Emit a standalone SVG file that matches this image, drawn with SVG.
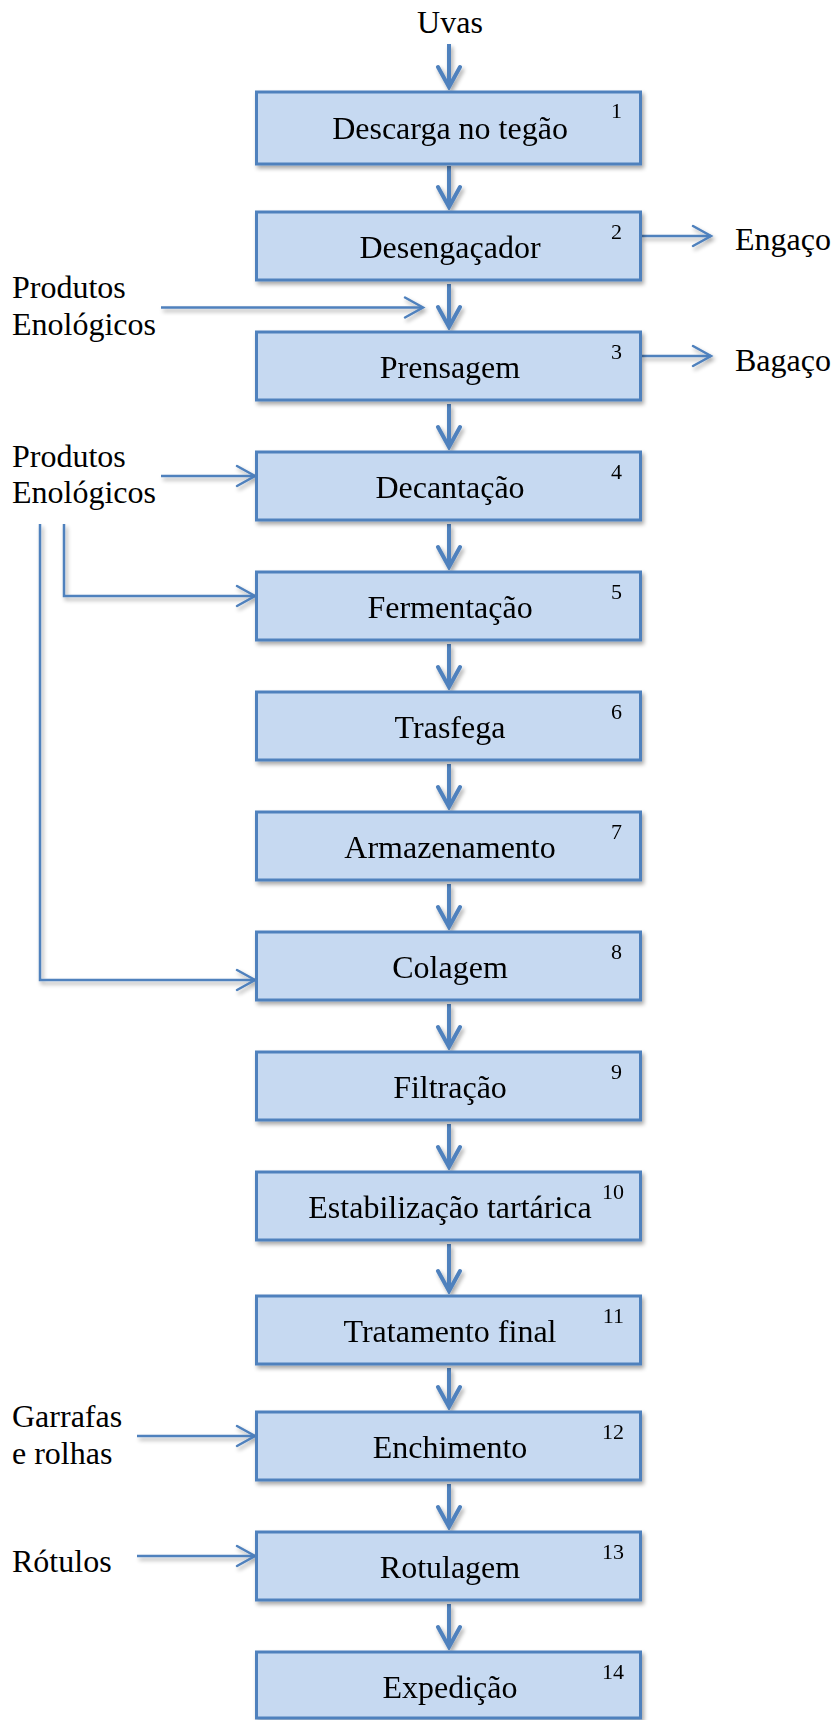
<svg xmlns="http://www.w3.org/2000/svg" width="831" height="1720" viewBox="0 0 831 1720">
<style>
.box{fill:#c6d9f1;stroke:#4f81bd;stroke-width:3}
.lbl{font-family:"Liberation Serif","Times New Roman",serif;font-size:32px;fill:#000;text-anchor:middle}
.num{font-family:"Liberation Serif","Times New Roman",serif;font-size:22px;fill:#000;text-anchor:end}
.side{font-family:"Liberation Serif","Times New Roman",serif;font-size:32px;fill:#000}
.thick{stroke:#4f81bd;stroke-width:4;fill:none;marker-end:url(#ah)}
.thin{stroke:#4f81bd;stroke-width:2.5;fill:none;marker-end:url(#at)}
</style>
<defs>
<filter id="sh" x="-10%" y="-10%" width="130%" height="140%">
<feGaussianBlur in="SourceAlpha" stdDeviation="2"/>
<feOffset dx="2" dy="3" result="o"/>
<feComponentTransfer><feFuncA type="linear" slope="0.35"/></feComponentTransfer>
<feMerge><feMergeNode/><feMergeNode in="SourceGraphic"/></feMerge>
</filter>
<marker id="ah" markerUnits="userSpaceOnUse" viewBox="-25 -14 28 28" refX="0" refY="0" markerWidth="28" markerHeight="28" orient="auto">
<path d="M -20 -11 L 0 0 L -20 11" fill="none" stroke="#4f81bd" stroke-width="4" stroke-linecap="round" stroke-linejoin="miter"/>
</marker>
<marker id="at" markerUnits="userSpaceOnUse" viewBox="-22 -13 25 26" refX="0" refY="0" markerWidth="25" markerHeight="26" orient="auto">
<path d="M -18 -10 L 0 0 L -18 10" fill="none" stroke="#4f81bd" stroke-width="2.5" stroke-linecap="round"/>
</marker>
</defs>

<g id="connectors" filter="url(#sh)">
<line class="thick" x1="449" y1="44" x2="449" y2="87"/>
<line class="thick" x1="449" y1="166" x2="449" y2="207"/>
<line class="thick" x1="449" y1="284" x2="449" y2="327"/>
<line class="thick" x1="449" y1="404" x2="449" y2="447"/>
<line class="thick" x1="449" y1="524" x2="449" y2="567"/>
<line class="thick" x1="449" y1="644" x2="449" y2="687"/>
<line class="thick" x1="449" y1="764" x2="449" y2="807"/>
<line class="thick" x1="449" y1="884" x2="449" y2="927"/>
<line class="thick" x1="449" y1="1004" x2="449" y2="1047"/>
<line class="thick" x1="449" y1="1124" x2="449" y2="1167"/>
<line class="thick" x1="449" y1="1244" x2="449" y2="1291"/>
<line class="thick" x1="449" y1="1368" x2="449" y2="1407"/>
<line class="thick" x1="449" y1="1484" x2="449" y2="1527"/>
<line class="thick" x1="449" y1="1604" x2="449" y2="1647"/>
<line class="thin" x1="641" y1="236" x2="711" y2="236"/>
<line class="thin" x1="641" y1="356" x2="711" y2="356"/>
<line class="thin" x1="161" y1="307.5" x2="423" y2="307.5"/>
<line class="thin" x1="161" y1="476" x2="255" y2="476"/>
<polyline class="thin" points="64,524 64,596 255,596"/>
<polyline class="thin" points="40,524 40,980 255,980"/>
<line class="thin" x1="137" y1="1436" x2="255" y2="1436"/>
<line class="thin" x1="137" y1="1556" x2="255" y2="1556"/>
</g>

<g id="n1" filter="url(#sh)"><rect class="box" x="256.5" y="92" width="384" height="72"/><text class="lbl" x="450" y="139">Descarga no tegão</text><text class="num" x="622" y="118">1</text></g>
<g id="n2" filter="url(#sh)"><rect class="box" x="256.5" y="212" width="384" height="68"/><text class="lbl" x="450" y="257.5">Desengaçador</text><text class="num" x="622" y="239">2</text></g>
<g id="n3" filter="url(#sh)"><rect class="box" x="256.5" y="332" width="384" height="68"/><text class="lbl" x="450" y="377.5">Prensagem</text><text class="num" x="622" y="359">3</text></g>
<g id="n4" filter="url(#sh)"><rect class="box" x="256.5" y="452" width="384" height="68"/><text class="lbl" x="450" y="497.5">Decantação</text><text class="num" x="622" y="479">4</text></g>
<g id="n5" filter="url(#sh)"><rect class="box" x="256.5" y="572" width="384" height="68"/><text class="lbl" x="450" y="617.5">Fermentação</text><text class="num" x="622" y="599">5</text></g>
<g id="n6" filter="url(#sh)"><rect class="box" x="256.5" y="692" width="384" height="68"/><text class="lbl" x="450" y="737.5">Trasfega</text><text class="num" x="622" y="719">6</text></g>
<g id="n7" filter="url(#sh)"><rect class="box" x="256.5" y="812" width="384" height="68"/><text class="lbl" x="450" y="857.5">Armazenamento</text><text class="num" x="622" y="839">7</text></g>
<g id="n8" filter="url(#sh)"><rect class="box" x="256.5" y="932" width="384" height="68"/><text class="lbl" x="450" y="977.5">Colagem</text><text class="num" x="622" y="959">8</text></g>
<g id="n9" filter="url(#sh)"><rect class="box" x="256.5" y="1052" width="384" height="68"/><text class="lbl" x="450" y="1097.5">Filtração</text><text class="num" x="622" y="1079">9</text></g>
<g id="n10" filter="url(#sh)"><rect class="box" x="256.5" y="1172" width="384" height="68"/><text class="lbl" x="450" y="1217.5">Estabilização tartárica</text><text class="num" x="624" y="1199">10</text></g>
<g id="n11" filter="url(#sh)"><rect class="box" x="256.5" y="1296" width="384" height="68"/><text class="lbl" x="450" y="1341.5">Tratamento final</text><text class="num" x="624" y="1323">11</text></g>
<g id="n12" filter="url(#sh)"><rect class="box" x="256.5" y="1412" width="384" height="68"/><text class="lbl" x="450" y="1457.5">Enchimento</text><text class="num" x="624" y="1439">12</text></g>
<g id="n13" filter="url(#sh)"><rect class="box" x="256.5" y="1532" width="384" height="68"/><text class="lbl" x="450" y="1577.5">Rotulagem</text><text class="num" x="624" y="1559">13</text></g>
<g id="n14" filter="url(#sh)"><rect class="box" x="256.5" y="1652" width="384" height="66"/><text class="lbl" x="450" y="1697.5">Expedição</text><text class="num" x="624" y="1679">14</text></g>

<g id="uvas"><text class="lbl" x="450" y="33">Uvas</text></g>
<g id="engaco"><text class="side" x="735" y="250">Engaço</text></g>
<g id="bagaco"><text class="side" x="735" y="370.5">Bagaço</text></g>
<g id="produtos1"><text class="side" x="12" y="298">Produtos</text><text class="side" x="12" y="335">Enológicos</text></g>
<g id="produtos2"><text class="side" x="12" y="466.5">Produtos</text><text class="side" x="12" y="502.5">Enológicos</text></g>
<g id="garrafas"><text class="side" x="12" y="1427">Garrafas</text><text class="side" x="12" y="1464">e rolhas</text></g>
<g id="rotulos"><text class="side" x="12" y="1571.5">Rótulos</text></g>
</svg>
